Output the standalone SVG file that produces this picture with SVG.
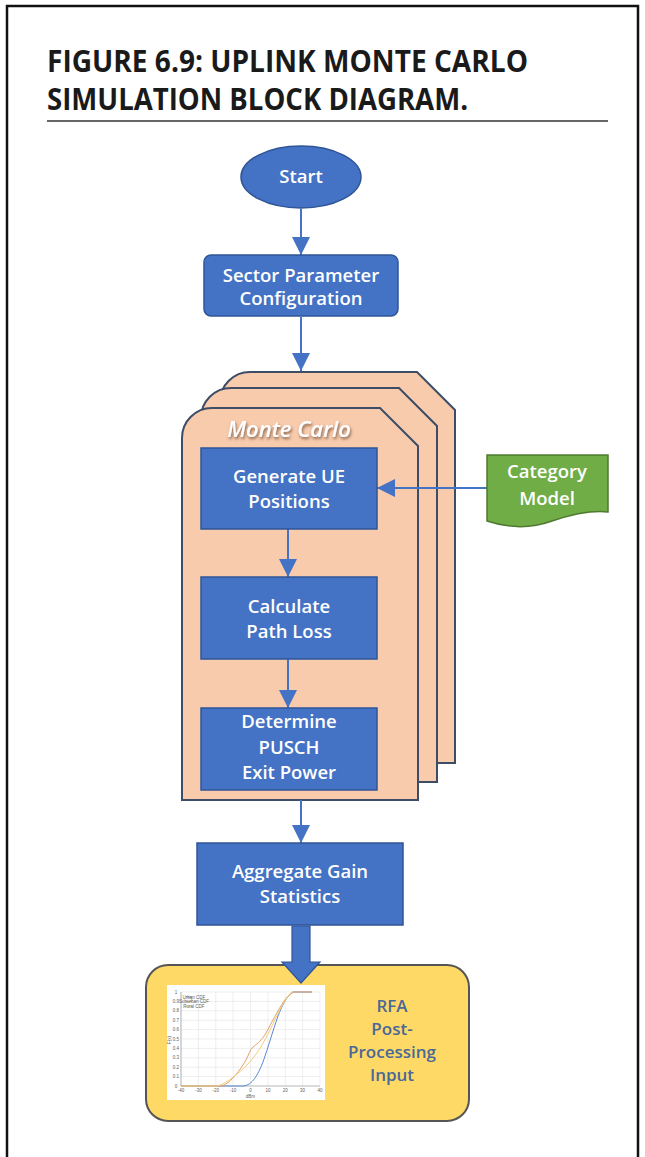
<svg xmlns="http://www.w3.org/2000/svg" width="645" height="1157" viewBox="0 0 645 1157">
  <defs>
    <marker id="arrow" markerUnits="userSpaceOnUse" markerWidth="18" markerHeight="18" refX="18" refY="9" orient="auto">
      <path d="M0,0 L18,9 L0,18 Z" fill="#4472C4"/>
    </marker>
    <filter id="txtShadow" x="-20%" y="-40%" width="140%" height="180%">
      <feDropShadow dx="1" dy="2" stdDeviation="1.8" flood-color="#5a3a20" flood-opacity="0.75"/>
    </filter>
  </defs>
  <style>
    .title { font-family: "Open Sans", "Liberation Sans", sans-serif; font-weight: 700; font-size: 30px; fill: #1a1a1a; }
    .box { fill: #4472C4; stroke: #2F5597; stroke-width: 1.5; }
    .lbl { font-family: "Open Sans", "Liberation Sans", sans-serif; font-weight: 600; font-size: 18.5px; fill: #ffffff; text-anchor: middle; }
    .card { fill: #F8CBAD; stroke: #3E4D66; stroke-width: 2; }
    .conn { stroke: #4472C4; stroke-width: 2; fill: none; marker-end: url(#arrow); }
    .grid { stroke: #E3E3E3; stroke-width: 0.6; }
    .tick { font-family: "Liberation Sans", sans-serif; font-size: 4.5px; fill: #606060; text-anchor: middle; }
    .rfa { font-family: "Open Sans", "Liberation Sans", sans-serif; font-weight: 600; font-size: 17px; fill: #4A6898; text-anchor: middle; }
  </style>

  <rect width="645" height="1157" fill="#ffffff"/>
  <!-- page frame, open at the bottom -->
  <path d="M7,1160 V6 H638 V1160" fill="none" stroke="#111111" stroke-width="2.5"/>

  <!-- heading -->
  <g id="heading">
    <text class="title" x="47" y="72" textLength="481" lengthAdjust="spacingAndGlyphs">FIGURE 6.9: UPLINK MONTE CARLO</text>
    <text class="title" x="47" y="110" textLength="421" lengthAdjust="spacingAndGlyphs">SIMULATION BLOCK DIAGRAM.</text>
    <line x1="47" y1="121" x2="608" y2="121" stroke="#666666" stroke-width="2"/>
  </g>

  <!-- stacked Monte Carlo cards -->
  <g id="monte-carlo">
    <path class="card" d="M220,402 A30,30 0 0 1 250,372 H417 L455,410 V763 H220 Z"/>
    <path class="card" d="M201,418 A30,30 0 0 1 231,388 H399 L437,426 V782 H201 Z"/>
    <path class="card" d="M182,438 A30,30 0 0 1 212,408 H380 L418,446 V800 H182 Z"/>
    <text x="289" y="437" font-family="'Open Sans', 'Liberation Sans', sans-serif" font-style="italic" font-weight="600" font-size="22" fill="#ffffff" text-anchor="middle" filter="url(#txtShadow)">Monte Carlo</text>
  </g>

  <!-- connectors -->
  <g id="connectors">
    <line class="conn" x1="301" y1="209" x2="301" y2="255"/>
    <line class="conn" x1="301" y1="317" x2="301" y2="371"/>
    <line class="conn" x1="487" y1="488" x2="377" y2="488"/>
    <line class="conn" x1="288" y1="529" x2="288" y2="577"/>
    <line class="conn" x1="288" y1="659" x2="288" y2="708"/>
    <line class="conn" x1="301" y1="800" x2="301" y2="843"/>
  </g>

  <g id="start">
    <ellipse class="box" cx="301" cy="177" rx="60" ry="31"/>
    <text class="lbl" x="301" y="183">Start</text>
  </g>

  <g id="sector-config">
    <rect class="box" x="204" y="255" width="194" height="61" rx="7"/>
    <text class="lbl" x="301" y="282">Sector Parameter</text>
    <text class="lbl" x="301" y="305">Configuration</text>
  </g>

  <g id="generate-ue">
    <rect class="box" x="201" y="448" width="176" height="81"/>
    <text class="lbl" x="289" y="483">Generate UE</text>
    <text class="lbl" x="289" y="508">Positions</text>
  </g>

  <g id="category-model">
    <path d="M487,455 H608 V512 C590,510 570,515 552,521 C530,529 508,528 487,521 Z" fill="#70AD47" stroke="#4E7A30" stroke-width="1.5"/>
    <text class="lbl" x="547" y="478" fill="#EEF4E4">Category</text>
    <text class="lbl" x="547" y="505" fill="#EEF4E4">Model</text>
  </g>

  <g id="path-loss">
    <rect class="box" x="201" y="577" width="176" height="82"/>
    <text class="lbl" x="289" y="613">Calculate</text>
    <text class="lbl" x="289" y="638">Path Loss</text>
  </g>

  <g id="pusch-power">
    <rect class="box" x="201" y="708" width="176" height="82"/>
    <text class="lbl" x="289" y="728">Determine</text>
    <text class="lbl" x="289" y="754">PUSCH</text>
    <text class="lbl" x="289" y="779">Exit Power</text>
  </g>

  <g id="aggregate">
    <rect class="box" x="197" y="843" width="206" height="82"/>
    <text class="lbl" x="300" y="878">Aggregate Gain</text>
    <text class="lbl" x="300" y="903">Statistics</text>
  </g>

  <!-- post-processing panel -->
  <g id="rfa-input">
    <rect x="146" y="965" width="323" height="156" rx="22" fill="#FFD966" stroke="#555555" stroke-width="2"/>
    <rect x="167" y="985" width="158" height="115" fill="#ffffff"/>
    <!-- CDF chart -->
    <g id="cdf-chart">
      <g class="grid">
        <line x1="181" y1="992" x2="181" y2="1086"/>
        <line x1="198.4" y1="992" x2="198.4" y2="1086"/>
        <line x1="215.8" y1="992" x2="215.8" y2="1086"/>
        <line x1="233.1" y1="992" x2="233.1" y2="1086"/>
        <line x1="250.5" y1="992" x2="250.5" y2="1086"/>
        <line x1="267.9" y1="992" x2="267.9" y2="1086"/>
        <line x1="285.3" y1="992" x2="285.3" y2="1086"/>
        <line x1="302.6" y1="992" x2="302.6" y2="1086"/>
        <line x1="320" y1="992" x2="320" y2="1086"/>
        <line x1="181" y1="992" x2="320" y2="992"/>
        <line x1="181" y1="1001.4" x2="320" y2="1001.4"/>
        <line x1="181" y1="1010.8" x2="320" y2="1010.8"/>
        <line x1="181" y1="1020.2" x2="320" y2="1020.2"/>
        <line x1="181" y1="1029.6" x2="320" y2="1029.6"/>
        <line x1="181" y1="1039" x2="320" y2="1039"/>
        <line x1="181" y1="1048.4" x2="320" y2="1048.4"/>
        <line x1="181" y1="1057.8" x2="320" y2="1057.8"/>
        <line x1="181" y1="1067.2" x2="320" y2="1067.2"/>
        <line x1="181" y1="1076.6" x2="320" y2="1076.6"/>
      </g>
      <line x1="181" y1="1086" x2="320" y2="1086" stroke="#9a9a9a" stroke-width="0.7"/>
      <line x1="181" y1="992" x2="181" y2="1086" stroke="#9a9a9a" stroke-width="0.7"/>
      <!-- curves -->
      <path d="M181,1086 H244 C252,1085 258,1075 263,1062 C268,1048 273,1030 278,1016 C282,1006 286,998 291,993 L293,992 H312" fill="none" stroke="#5B8BD0" stroke-width="1"/>
      <path d="M181,1086 H222 C232,1082 240,1070 246,1060 C249,1054 250,1050 253,1047 C258,1043 262,1040 266,1033 C272,1022 278,1010 284,1001 C287,997 290,994 294,992 H312" fill="none" stroke="#E3A06A" stroke-width="1"/>
      <path d="M181,1086 H218 C228,1082 238,1074 248,1064 C258,1053 264,1042 270,1030 C276,1018 280,1008 285,1001 C288,996 290,993 293,992" fill="none" stroke="#F2CD7A" stroke-width="1"/>
      <!-- legend -->
      <line x1="186" y1="997" x2="192" y2="997" stroke="#5B8BD0" stroke-width="0.8"/>
      <line x1="186" y1="1001.5" x2="192" y2="1001.5" stroke="#E3A06A" stroke-width="0.8"/>
      <line x1="186" y1="1006" x2="192" y2="1006" stroke="#F2CD7A" stroke-width="0.8"/>
      <text class="tick" x="194" y="998.5" text-anchor="start">Urban CDF</text>
      <text class="tick" x="194" y="1003" text-anchor="start">Suburban CDF</text>
      <text class="tick" x="194" y="1007.5" text-anchor="start">Rural CDF</text>
      <!-- x ticks -->
      <text class="tick" x="181" y="1092">-40</text>
      <text class="tick" x="198.4" y="1092">-30</text>
      <text class="tick" x="215.8" y="1092">-20</text>
      <text class="tick" x="233.1" y="1092">-10</text>
      <text class="tick" x="250.5" y="1092">0</text>
      <text class="tick" x="267.9" y="1092">10</text>
      <text class="tick" x="285.3" y="1092">20</text>
      <text class="tick" x="302.6" y="1092">30</text>
      <text class="tick" x="320" y="1092">40</text>
      <text class="tick" x="250.5" y="1098">dBm</text>
      <!-- y ticks -->
      <text class="tick" x="176" y="993.5">1</text>
      <text class="tick" x="176" y="1002.9">0.9</text>
      <text class="tick" x="176" y="1012.3">0.8</text>
      <text class="tick" x="176" y="1021.7">0.7</text>
      <text class="tick" x="176" y="1031.1">0.6</text>
      <text class="tick" x="176" y="1040.5">0.5</text>
      <text class="tick" x="176" y="1049.9">0.4</text>
      <text class="tick" x="176" y="1059.3">0.3</text>
      <text class="tick" x="176" y="1068.7">0.2</text>
      <text class="tick" x="176" y="1078.1">0.1</text>
      <text class="tick" x="176" y="1087.5">0</text>
      <text class="tick" x="171" y="1040" transform="rotate(-90 171 1040)">F(x)</text>
    </g>
    <text class="rfa" x="392" y="1012">RFA</text>
    <text class="rfa" x="392" y="1035">Post-</text>
    <text class="rfa" x="392" y="1058">Processing</text>
    <text class="rfa" x="392" y="1081">Input</text>
  </g>

  <!-- block arrow into the post-processing panel -->
  <g id="block-arrow">
    <polygon points="292,926 310,926 310,962 320,962 301,983 282,962 292,962" fill="#4472C4" stroke="#2F5597" stroke-width="1.2"/>
  </g>
</svg>
